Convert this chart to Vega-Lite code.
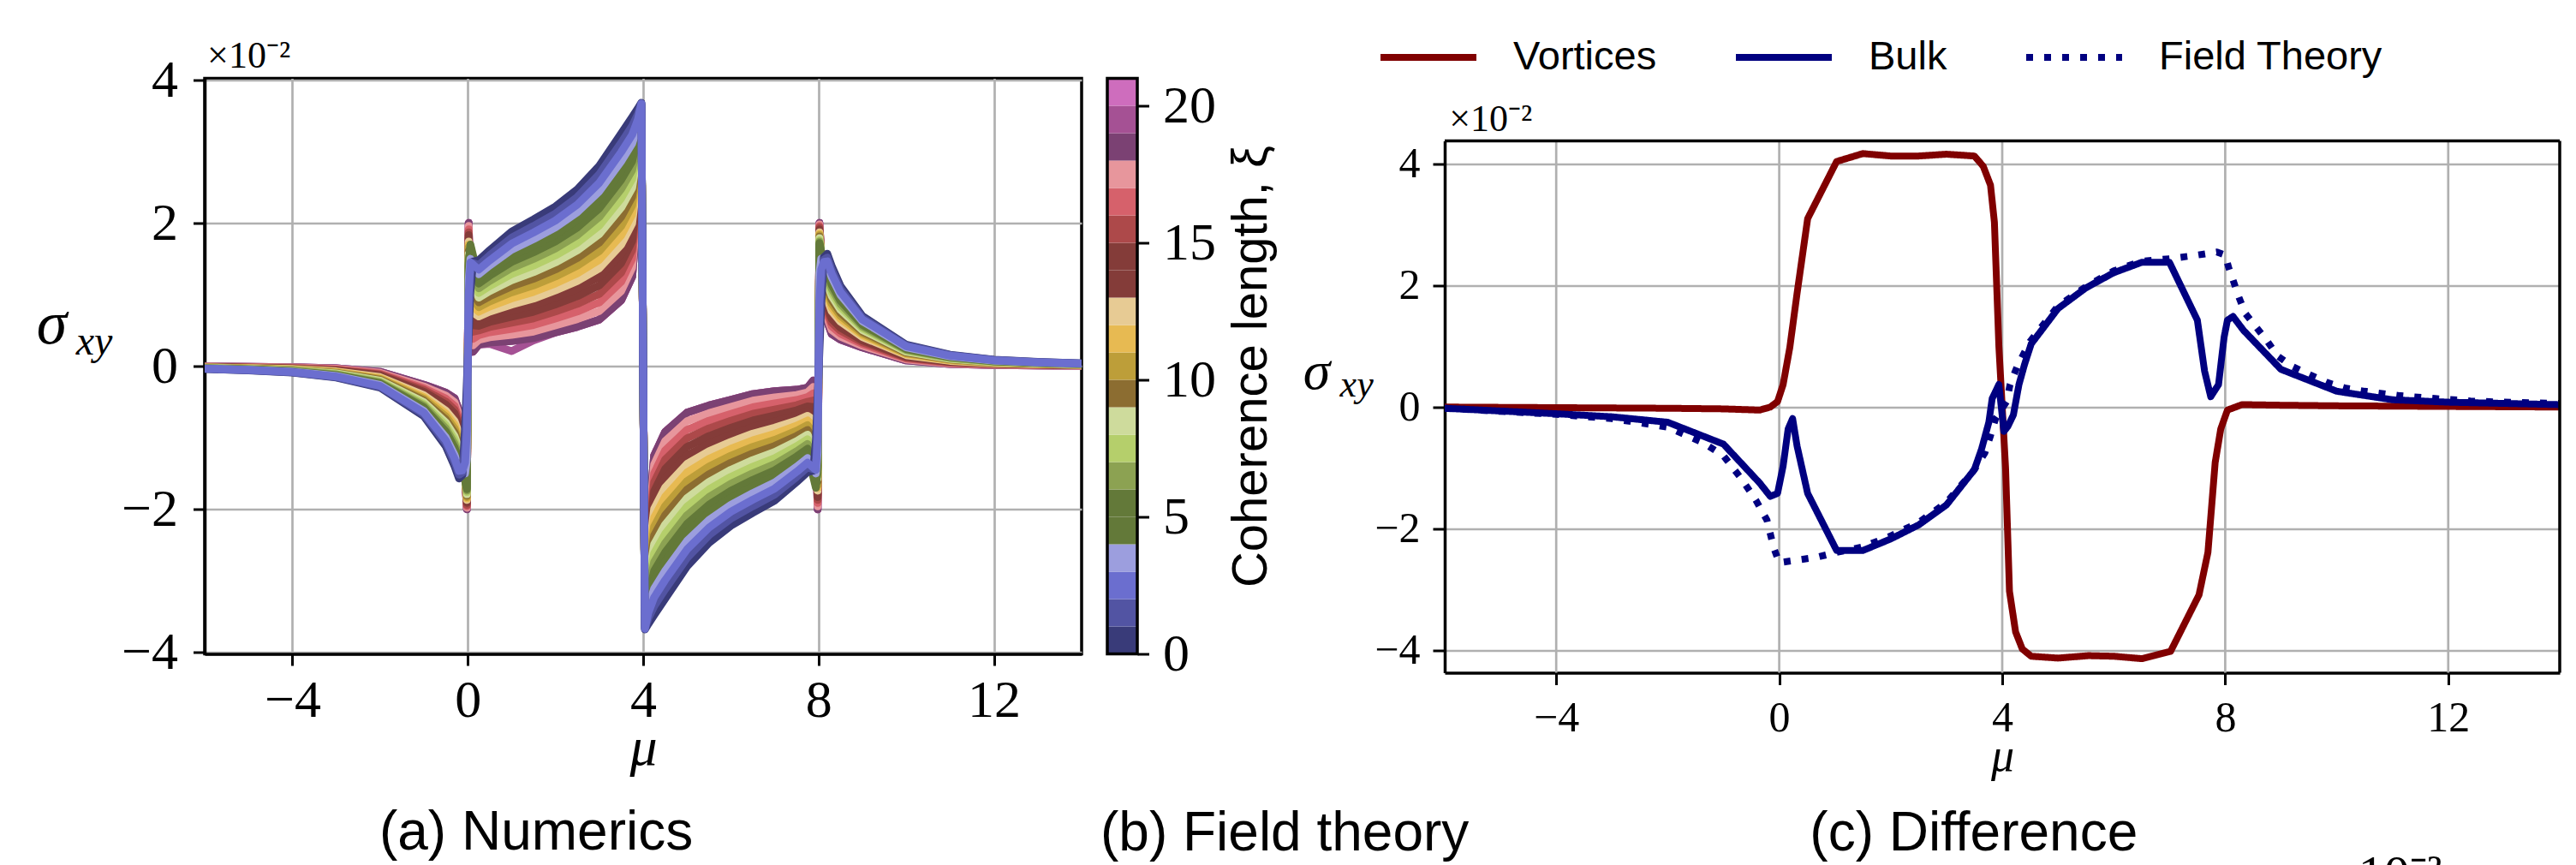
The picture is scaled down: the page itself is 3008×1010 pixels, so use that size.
{
"$schema": "https://vega.github.io/schema/vega-lite/v6.json",
"background": "white",
"padding": {"left": 40, "top": 6.5, "right": 10, "bottom": 0},
"autosize": {"type": "pad"},
"bounds": "flush",
"spacing": 424,
"config": {
  "font": "Liberation Serif",
  "view": {"stroke": null},
  "axis": {"gridColor": "#b0b0b0", "gridWidth": 2.7, "gridOpacity": 1, "domainColor": "black", "domainWidth": 3.5, "tickColor": "black", "tickWidth": 3, "labelColor": "black", "titleColor": "black", "labelFont": "Liberation Serif", "titleFont": "Liberation Serif", "titleFontWeight": "normal", "labelFlush": false, "labelOverlap": false}
},
"datasets": {
"numerics": [
{"m":-6,"v0":-0.04,"v1":-0.038,"v2":-0.036,"v3":-0.034,"v4":-0.032,"v5":-0.03,"v6":-0.028,"v7":-0.026,"v8":-0.024,"v9":-0.023,"v10":-0.021,"v11":-0.019,"v12":-0.017,"v13":-0.015,"v14":-0.013,"v15":-0.011,"v16":-0.009,"v17":-0.007,"v18":-0.005,"v19":-0.005,"v20":-0.005},
{"m":-5,"v0":-0.06,"v1":-0.057,"v2":-0.054,"v3":-0.052,"v4":-0.049,"v5":-0.046,"v6":-0.043,"v7":-0.041,"v8":-0.038,"v9":-0.035,"v10":-0.032,"v11":-0.029,"v12":-0.027,"v13":-0.024,"v14":-0.021,"v15":-0.018,"v16":-0.016,"v17":-0.013,"v18":-0.01,"v19":-0.01,"v20":-0.01},
{"m":-4,"v0":-0.09,"v1":-0.086,"v2":-0.082,"v3":-0.078,"v4":-0.073,"v5":-0.069,"v6":-0.065,"v7":-0.061,"v8":-0.057,"v9":-0.053,"v10":-0.048,"v11":-0.044,"v12":-0.04,"v13":-0.036,"v14":-0.032,"v15":-0.028,"v16":-0.023,"v17":-0.019,"v18":-0.015,"v19":-0.015,"v20":-0.015},
{"m":-3,"v0":-0.16,"v1":-0.153,"v2":-0.146,"v3":-0.138,"v4":-0.131,"v5":-0.124,"v6":-0.117,"v7":-0.109,"v8":-0.102,"v9":-0.095,"v10":-0.088,"v11":-0.081,"v12":-0.073,"v13":-0.066,"v14":-0.059,"v15":-0.052,"v16":-0.044,"v17":-0.037,"v18":-0.03,"v19":-0.03,"v20":-0.03},
{"m":-2,"v0":-0.3,"v1":-0.288,"v2":-0.276,"v3":-0.263,"v4":-0.251,"v5":-0.239,"v6":-0.227,"v7":-0.214,"v8":-0.202,"v9":-0.19,"v10":-0.178,"v11":-0.166,"v12":-0.153,"v13":-0.141,"v14":-0.129,"v15":-0.117,"v16":-0.104,"v17":-0.092,"v18":-0.08,"v19":-0.08,"v20":-0.08},
{"m":-1,"v0":-0.7,"v1":-0.676,"v2":-0.651,"v3":-0.627,"v4":-0.602,"v5":-0.578,"v6":-0.553,"v7":-0.529,"v8":-0.504,"v9":-0.48,"v10":-0.456,"v11":-0.431,"v12":-0.407,"v13":-0.382,"v14":-0.358,"v15":-0.333,"v16":-0.309,"v17":-0.284,"v18":-0.26,"v19":-0.26,"v20":-0.26},
{"m":-0.5,"v0":-1.12,"v1":-1.078,"v2":-1.037,"v3":-0.995,"v4":-0.953,"v5":-0.912,"v6":-0.87,"v7":-0.828,"v8":-0.787,"v9":-0.745,"v10":-0.703,"v11":-0.662,"v12":-0.62,"v13":-0.578,"v14":-0.537,"v15":-0.495,"v16":-0.453,"v17":-0.412,"v18":-0.37,"v19":-0.37,"v20":-0.37},
{"m":-0.3,"v0":-1.4,"v1":-1.347,"v2":-1.294,"v3":-1.242,"v4":-1.189,"v5":-1.136,"v6":-1.083,"v7":-1.031,"v8":-0.978,"v9":-0.925,"v10":-0.872,"v11":-0.819,"v12":-0.767,"v13":-0.714,"v14":-0.661,"v15":-0.608,"v16":-0.556,"v17":-0.503,"v18":-0.45,"v19":-0.45,"v20":-0.45},
{"m":-0.2,"v0":-1.57,"v1":-1.517,"v2":-1.464,"v3":-1.412,"v4":-1.359,"v5":-1.306,"v6":-1.253,"v7":-1.201,"v8":-1.148,"v9":-1.095,"v10":-1.042,"v11":-0.989,"v12":-0.937,"v13":-0.884,"v14":-0.831,"v15":-0.778,"v16":-0.726,"v17":-0.673,"v18":-0.62,"v19":-0.62,"v20":-0.62},
{"m":-0.12,"v0":-1.52,"v1":-1.488,"v2":-1.457,"v3":-1.425,"v4":-1.393,"v5":-1.362,"v6":-1.33,"v7":-1.298,"v8":-1.267,"v9":-1.235,"v10":-1.203,"v11":-1.172,"v12":-1.14,"v13":-1.108,"v14":-1.077,"v15":-1.045,"v16":-1.013,"v17":-0.982,"v18":-0.95,"v19":-0.95,"v20":-0.95},
{"m":-0.06,"v0":-0.82,"v1":-1.1,"v2":-1.35,"v3":-1.5,"v4":-1.6,"v5":-1.6,"v6":-1.59,"v7":-1.59,"v8":-1.58,"v9":-1.58,"v10":-1.58,"v11":-1.57,"v12":-1.57,"v13":-1.57,"v14":-1.56,"v15":-1.56,"v16":-1.56,"v17":-1.55,"v18":-1.55,"v19":-1.55,"v20":-1.55},
{"m":-0.02,"v0":-0.21,"v1":-0.5,"v2":-0.9,"v3":-1.3,"v4":-1.7,"v5":-1.72,"v6":-1.74,"v7":-1.76,"v8":-1.79,"v9":-1.81,"v10":-1.83,"v11":-1.85,"v12":-1.87,"v13":-1.89,"v14":-1.91,"v15":-1.94,"v16":-1.96,"v17":-1.98,"v18":-2.0,"v19":-2.0,"v20":-2.0},
{"m":0.02,"v0":0.41,"v1":0.7,"v2":1.0,"v3":1.2,"v4":1.4,"v5":1.44,"v6":1.49,"v7":1.53,"v8":1.57,"v9":1.61,"v10":1.66,"v11":1.7,"v12":1.74,"v13":1.79,"v14":1.83,"v15":1.87,"v16":1.91,"v17":1.96,"v18":2.0,"v19":2.0,"v20":2.0},
{"m":0.06,"v0":1.03,"v1":1.3,"v2":1.45,"v3":1.5,"v4":1.7,"v5":1.65,"v6":1.6,"v7":1.55,"v8":1.5,"v9":1.45,"v10":1.4,"v11":1.35,"v12":1.3,"v13":1.25,"v14":1.2,"v15":1.15,"v16":1.1,"v17":1.05,"v18":1.0,"v19":1.0,"v20":1.0},
{"m":0.12,"v0":1.46,"v1":1.44,"v2":1.42,"v3":1.4,"v4":1.55,"v5":1.5,"v6":1.3,"v7":1.21,"v8":1.12,"v9":1.03,"v10":0.93,"v11":0.84,"v12":0.75,"v13":0.66,"v14":0.57,"v15":0.48,"v16":0.38,"v17":0.29,"v18":0.2,"v19":0.2,"v20":0.2},
{"m":0.25,"v0":1.48,"v1":1.414,"v2":1.349,"v3":1.283,"v4":1.218,"v5":1.152,"v6":1.087,"v7":1.021,"v8":0.956,"v9":0.89,"v10":0.824,"v11":0.759,"v12":0.693,"v13":0.628,"v14":0.562,"v15":0.497,"v16":0.431,"v17":0.366,"v18":0.3,"v19":0.3,"v20":0.3},
{"m":0.5,"v0":1.62,"v1":1.548,"v2":1.477,"v3":1.405,"v4":1.333,"v5":1.262,"v6":1.19,"v7":1.118,"v8":1.047,"v9":0.975,"v10":0.903,"v11":0.832,"v12":0.76,"v13":0.688,"v14":0.617,"v15":0.545,"v16":0.473,"v17":0.402,"v18":0.33,"v19":0.31,"v20":0.33},
{"m":1,"v0":1.88,"v1":1.795,"v2":1.71,"v3":1.625,"v4":1.54,"v5":1.455,"v6":1.37,"v7":1.285,"v8":1.2,"v9":1.115,"v10":1.03,"v11":0.945,"v12":0.86,"v13":0.775,"v14":0.69,"v15":0.605,"v16":0.52,"v17":0.435,"v18":0.35,"v19":0.21,"v20":0.35},
{"m":1.5,"v0":2.05,"v1":1.958,"v2":1.866,"v3":1.773,"v4":1.681,"v5":1.589,"v6":1.497,"v7":1.404,"v8":1.312,"v9":1.22,"v10":1.128,"v11":1.036,"v12":0.943,"v13":0.851,"v14":0.759,"v15":0.667,"v16":0.574,"v17":0.482,"v18":0.39,"v19":0.36,"v20":0.39},
{"m":2,"v0":2.23,"v1":2.132,"v2":2.034,"v3":1.937,"v4":1.839,"v5":1.741,"v6":1.643,"v7":1.546,"v8":1.448,"v9":1.35,"v10":1.252,"v11":1.154,"v12":1.057,"v13":0.959,"v14":0.861,"v15":0.763,"v16":0.666,"v17":0.568,"v18":0.47,"v19":0.47,"v20":0.47},
{"m":2.5,"v0":2.47,"v1":2.363,"v2":2.257,"v3":2.15,"v4":2.043,"v5":1.937,"v6":1.83,"v7":1.723,"v8":1.617,"v9":1.51,"v10":1.403,"v11":1.297,"v12":1.19,"v13":1.083,"v14":0.977,"v15":0.87,"v16":0.763,"v17":0.657,"v18":0.55,"v19":0.55,"v20":0.55},
{"m":3,"v0":2.8,"v1":2.681,"v2":2.561,"v3":2.442,"v4":2.322,"v5":2.203,"v6":2.083,"v7":1.964,"v8":1.844,"v9":1.725,"v10":1.606,"v11":1.486,"v12":1.367,"v13":1.247,"v14":1.128,"v15":1.008,"v16":0.889,"v17":0.769,"v18":0.65,"v19":0.65,"v20":0.65},
{"m":3.5,"v0":3.25,"v1":3.121,"v2":2.991,"v3":2.862,"v4":2.732,"v5":2.603,"v6":2.473,"v7":2.344,"v8":2.214,"v9":2.085,"v10":1.956,"v11":1.826,"v12":1.697,"v13":1.567,"v14":1.438,"v15":1.308,"v16":1.179,"v17":1.049,"v18":0.92,"v19":0.92,"v20":0.92},
{"m":3.75,"v0":3.48,"v1":3.356,"v2":3.232,"v3":3.108,"v4":2.984,"v5":2.861,"v6":2.737,"v7":2.613,"v8":2.489,"v9":2.365,"v10":2.241,"v11":2.117,"v12":1.993,"v13":1.869,"v14":1.746,"v15":1.622,"v16":1.498,"v17":1.374,"v18":1.25,"v19":1.25,"v20":1.25},
{"m":3.88,"v0":3.6,"v1":3.522,"v2":3.444,"v3":3.367,"v4":3.289,"v5":3.211,"v6":3.133,"v7":3.056,"v8":2.978,"v9":2.9,"v10":2.822,"v11":2.744,"v12":2.667,"v13":2.589,"v14":2.511,"v15":2.433,"v16":2.356,"v17":2.278,"v18":2.2,"v19":2.2,"v20":2.2},
{"m":3.96,"v0":3.68,"v1":3.673,"v2":3.666,"v3":3.658,"v4":3.651,"v5":3.644,"v6":3.637,"v7":3.629,"v8":3.622,"v9":3.615,"v10":3.608,"v11":3.601,"v12":3.593,"v13":3.586,"v14":3.579,"v15":3.572,"v16":3.564,"v17":3.557,"v18":3.55,"v19":3.55,"v20":3.55},
{"m":4.04,"v0":-3.68,"v1":-3.673,"v2":-3.666,"v3":-3.658,"v4":-3.651,"v5":-3.644,"v6":-3.637,"v7":-3.629,"v8":-3.622,"v9":-3.615,"v10":-3.608,"v11":-3.601,"v12":-3.593,"v13":-3.586,"v14":-3.579,"v15":-3.572,"v16":-3.564,"v17":-3.557,"v18":-3.55,"v19":-3.55,"v20":-3.55},
{"m":4.12,"v0":-3.6,"v1":-3.522,"v2":-3.444,"v3":-3.367,"v4":-3.289,"v5":-3.211,"v6":-3.133,"v7":-3.056,"v8":-2.978,"v9":-2.9,"v10":-2.822,"v11":-2.744,"v12":-2.667,"v13":-2.589,"v14":-2.511,"v15":-2.433,"v16":-2.356,"v17":-2.278,"v18":-2.2,"v19":-2.2,"v20":-2.2},
{"m":4.25,"v0":-3.48,"v1":-3.356,"v2":-3.232,"v3":-3.108,"v4":-2.984,"v5":-2.861,"v6":-2.737,"v7":-2.613,"v8":-2.489,"v9":-2.365,"v10":-2.241,"v11":-2.117,"v12":-1.993,"v13":-1.869,"v14":-1.746,"v15":-1.622,"v16":-1.498,"v17":-1.374,"v18":-1.25,"v19":-1.25,"v20":-1.25},
{"m":4.5,"v0":-3.25,"v1":-3.121,"v2":-2.991,"v3":-2.862,"v4":-2.732,"v5":-2.603,"v6":-2.473,"v7":-2.344,"v8":-2.214,"v9":-2.085,"v10":-1.956,"v11":-1.826,"v12":-1.697,"v13":-1.567,"v14":-1.438,"v15":-1.308,"v16":-1.179,"v17":-1.049,"v18":-0.92,"v19":-0.92,"v20":-0.92},
{"m":5,"v0":-2.8,"v1":-2.681,"v2":-2.561,"v3":-2.442,"v4":-2.322,"v5":-2.203,"v6":-2.083,"v7":-1.964,"v8":-1.844,"v9":-1.725,"v10":-1.606,"v11":-1.486,"v12":-1.367,"v13":-1.247,"v14":-1.128,"v15":-1.008,"v16":-0.889,"v17":-0.769,"v18":-0.65,"v19":-0.65,"v20":-0.65},
{"m":5.5,"v0":-2.47,"v1":-2.363,"v2":-2.257,"v3":-2.15,"v4":-2.043,"v5":-1.937,"v6":-1.83,"v7":-1.723,"v8":-1.617,"v9":-1.51,"v10":-1.403,"v11":-1.297,"v12":-1.19,"v13":-1.083,"v14":-0.977,"v15":-0.87,"v16":-0.763,"v17":-0.657,"v18":-0.55,"v19":-0.55,"v20":-0.55},
{"m":6,"v0":-2.23,"v1":-2.132,"v2":-2.034,"v3":-1.937,"v4":-1.839,"v5":-1.741,"v6":-1.643,"v7":-1.546,"v8":-1.448,"v9":-1.35,"v10":-1.252,"v11":-1.154,"v12":-1.057,"v13":-0.959,"v14":-0.861,"v15":-0.763,"v16":-0.666,"v17":-0.568,"v18":-0.47,"v19":-0.47,"v20":-0.47},
{"m":6.5,"v0":-2.05,"v1":-1.958,"v2":-1.866,"v3":-1.773,"v4":-1.681,"v5":-1.589,"v6":-1.497,"v7":-1.404,"v8":-1.312,"v9":-1.22,"v10":-1.128,"v11":-1.036,"v12":-0.943,"v13":-0.851,"v14":-0.759,"v15":-0.667,"v16":-0.574,"v17":-0.482,"v18":-0.39,"v19":-0.39,"v20":-0.39},
{"m":7,"v0":-1.88,"v1":-1.795,"v2":-1.71,"v3":-1.625,"v4":-1.54,"v5":-1.455,"v6":-1.37,"v7":-1.285,"v8":-1.2,"v9":-1.115,"v10":-1.03,"v11":-0.945,"v12":-0.86,"v13":-0.775,"v14":-0.69,"v15":-0.605,"v16":-0.52,"v17":-0.435,"v18":-0.35,"v19":-0.35,"v20":-0.35},
{"m":7.5,"v0":-1.62,"v1":-1.548,"v2":-1.477,"v3":-1.405,"v4":-1.333,"v5":-1.262,"v6":-1.19,"v7":-1.118,"v8":-1.047,"v9":-0.975,"v10":-0.903,"v11":-0.832,"v12":-0.76,"v13":-0.688,"v14":-0.617,"v15":-0.545,"v16":-0.473,"v17":-0.402,"v18":-0.33,"v19":-0.33,"v20":-0.33},
{"m":7.75,"v0":-1.48,"v1":-1.414,"v2":-1.349,"v3":-1.283,"v4":-1.218,"v5":-1.152,"v6":-1.087,"v7":-1.021,"v8":-0.956,"v9":-0.89,"v10":-0.824,"v11":-0.759,"v12":-0.693,"v13":-0.628,"v14":-0.562,"v15":-0.497,"v16":-0.431,"v17":-0.366,"v18":-0.3,"v19":-0.3,"v20":-0.3},
{"m":7.88,"v0":-1.46,"v1":-1.44,"v2":-1.42,"v3":-1.4,"v4":-1.55,"v5":-1.5,"v6":-1.3,"v7":-1.21,"v8":-1.12,"v9":-1.03,"v10":-0.93,"v11":-0.84,"v12":-0.75,"v13":-0.66,"v14":-0.57,"v15":-0.48,"v16":-0.38,"v17":-0.29,"v18":-0.2,"v19":-0.2,"v20":-0.2},
{"m":7.94,"v0":-1.03,"v1":-1.3,"v2":-1.45,"v3":-1.5,"v4":-1.7,"v5":-1.65,"v6":-1.6,"v7":-1.55,"v8":-1.5,"v9":-1.45,"v10":-1.4,"v11":-1.35,"v12":-1.3,"v13":-1.25,"v14":-1.2,"v15":-1.15,"v16":-1.1,"v17":-1.05,"v18":-1.0,"v19":-1.0,"v20":-1.0},
{"m":7.98,"v0":-0.41,"v1":-0.7,"v2":-1.0,"v3":-1.2,"v4":-1.4,"v5":-1.44,"v6":-1.49,"v7":-1.53,"v8":-1.57,"v9":-1.61,"v10":-1.66,"v11":-1.7,"v12":-1.74,"v13":-1.79,"v14":-1.83,"v15":-1.87,"v16":-1.91,"v17":-1.96,"v18":-2.0,"v19":-2.0,"v20":-2.0},
{"m":8.02,"v0":0.21,"v1":0.5,"v2":0.9,"v3":1.3,"v4":1.7,"v5":1.72,"v6":1.74,"v7":1.76,"v8":1.79,"v9":1.81,"v10":1.83,"v11":1.85,"v12":1.87,"v13":1.89,"v14":1.91,"v15":1.94,"v16":1.96,"v17":1.98,"v18":2.0,"v19":2.0,"v20":2.0},
{"m":8.06,"v0":0.82,"v1":1.1,"v2":1.35,"v3":1.5,"v4":1.6,"v5":1.6,"v6":1.59,"v7":1.59,"v8":1.58,"v9":1.58,"v10":1.58,"v11":1.57,"v12":1.57,"v13":1.57,"v14":1.56,"v15":1.56,"v16":1.56,"v17":1.55,"v18":1.55,"v19":1.55,"v20":1.55},
{"m":8.12,"v0":1.52,"v1":1.488,"v2":1.457,"v3":1.425,"v4":1.393,"v5":1.362,"v6":1.33,"v7":1.298,"v8":1.267,"v9":1.235,"v10":1.203,"v11":1.172,"v12":1.14,"v13":1.108,"v14":1.077,"v15":1.045,"v16":1.013,"v17":0.982,"v18":0.95,"v19":0.95,"v20":0.95},
{"m":8.2,"v0":1.57,"v1":1.517,"v2":1.464,"v3":1.412,"v4":1.359,"v5":1.306,"v6":1.253,"v7":1.201,"v8":1.148,"v9":1.095,"v10":1.042,"v11":0.989,"v12":0.937,"v13":0.884,"v14":0.831,"v15":0.778,"v16":0.726,"v17":0.673,"v18":0.62,"v19":0.62,"v20":0.62},
{"m":8.3,"v0":1.4,"v1":1.347,"v2":1.294,"v3":1.242,"v4":1.189,"v5":1.136,"v6":1.083,"v7":1.031,"v8":0.978,"v9":0.925,"v10":0.872,"v11":0.819,"v12":0.767,"v13":0.714,"v14":0.661,"v15":0.608,"v16":0.556,"v17":0.503,"v18":0.45,"v19":0.45,"v20":0.45},
{"m":8.5,"v0":1.12,"v1":1.078,"v2":1.037,"v3":0.995,"v4":0.953,"v5":0.912,"v6":0.87,"v7":0.828,"v8":0.787,"v9":0.745,"v10":0.703,"v11":0.662,"v12":0.62,"v13":0.578,"v14":0.537,"v15":0.495,"v16":0.453,"v17":0.412,"v18":0.37,"v19":0.37,"v20":0.37},
{"m":9,"v0":0.7,"v1":0.676,"v2":0.651,"v3":0.627,"v4":0.602,"v5":0.578,"v6":0.553,"v7":0.529,"v8":0.504,"v9":0.48,"v10":0.456,"v11":0.431,"v12":0.407,"v13":0.382,"v14":0.358,"v15":0.333,"v16":0.309,"v17":0.284,"v18":0.26,"v19":0.26,"v20":0.26},
{"m":10,"v0":0.3,"v1":0.288,"v2":0.276,"v3":0.263,"v4":0.251,"v5":0.239,"v6":0.227,"v7":0.214,"v8":0.202,"v9":0.19,"v10":0.178,"v11":0.166,"v12":0.153,"v13":0.141,"v14":0.129,"v15":0.117,"v16":0.104,"v17":0.092,"v18":0.08,"v19":0.08,"v20":0.08},
{"m":11,"v0":0.16,"v1":0.153,"v2":0.146,"v3":0.138,"v4":0.131,"v5":0.124,"v6":0.117,"v7":0.109,"v8":0.102,"v9":0.095,"v10":0.088,"v11":0.081,"v12":0.073,"v13":0.066,"v14":0.059,"v15":0.052,"v16":0.044,"v17":0.037,"v18":0.03,"v19":0.03,"v20":0.03},
{"m":12,"v0":0.09,"v1":0.086,"v2":0.082,"v3":0.078,"v4":0.073,"v5":0.069,"v6":0.065,"v7":0.061,"v8":0.057,"v9":0.053,"v10":0.048,"v11":0.044,"v12":0.04,"v13":0.036,"v14":0.032,"v15":0.028,"v16":0.023,"v17":0.019,"v18":0.015,"v19":0.015,"v20":0.015},
{"m":13,"v0":0.06,"v1":0.057,"v2":0.054,"v3":0.052,"v4":0.049,"v5":0.046,"v6":0.043,"v7":0.041,"v8":0.038,"v9":0.035,"v10":0.032,"v11":0.029,"v12":0.027,"v13":0.024,"v14":0.021,"v15":0.018,"v16":0.016,"v17":0.013,"v18":0.01,"v19":0.01,"v20":0.01},
{"m":14,"v0":0.04,"v1":0.038,"v2":0.036,"v3":0.034,"v4":0.032,"v5":0.03,"v6":0.028,"v7":0.026,"v8":0.024,"v9":0.023,"v10":0.021,"v11":0.019,"v12":0.017,"v13":0.015,"v14":0.013,"v15":0.011,"v16":0.009,"v17":0.007,"v18":0.005,"v19":0.005,"v20":0.005}
],
"cbar": [
{"lo":0,"hi":1},{"lo":1,"hi":2},{"lo":2,"hi":3},{"lo":3,"hi":4},{"lo":4,"hi":5},{"lo":5,"hi":6},{"lo":6,"hi":7},{"lo":7,"hi":8},{"lo":8,"hi":9},{"lo":9,"hi":10},{"lo":10,"hi":11},{"lo":11,"hi":12},{"lo":12,"hi":13},{"lo":13,"hi":14},{"lo":14,"hi":15},{"lo":15,"hi":16},{"lo":16,"hi":17},{"lo":17,"hi":18},{"lo":18,"hi":19},{"lo":19,"hi":20},{"lo":20,"hi":21}
],
"diff": [
{"s":"Vortices","m":-6,"v":0.0},{"s":"Vortices","m":-4,"v":-0.01},{"s":"Vortices","m":-2,"v":-0.02},{"s":"Vortices","m":-1,"v":-0.03},{"s":"Vortices","m":-0.35,"v":-0.05},{"s":"Vortices","m":-0.16,"v":0.0},{"s":"Vortices","m":-0.03,"v":0.09},{"s":"Vortices","m":0.07,"v":0.37},{"s":"Vortices","m":0.19,"v":0.98},{"s":"Vortices","m":0.32,"v":1.87},{"s":"Vortices","m":0.51,"v":3.1},{"s":"Vortices","m":1.03,"v":4.04},{"s":"Vortices","m":1.5,"v":4.17},{"s":"Vortices","m":2.0,"v":4.13},{"s":"Vortices","m":2.5,"v":4.13},{"s":"Vortices","m":3.0,"v":4.16},{"s":"Vortices","m":3.5,"v":4.13},{"s":"Vortices","m":3.66,"v":3.96},{"s":"Vortices","m":3.79,"v":3.65},{"s":"Vortices","m":3.86,"v":3.04},{"s":"Vortices","m":3.94,"v":1.0},{"s":"Vortices","m":4.0,"v":0.0},{"s":"Vortices","m":4.06,"v":-1.0},{"s":"Vortices","m":4.13,"v":-3.03},{"s":"Vortices","m":4.24,"v":-3.7},{"s":"Vortices","m":4.36,"v":-3.98},{"s":"Vortices","m":4.52,"v":-4.1},{"s":"Vortices","m":5.0,"v":-4.13},{"s":"Vortices","m":5.55,"v":-4.09},{"s":"Vortices","m":6.0,"v":-4.1},{"s":"Vortices","m":6.51,"v":-4.14},{"s":"Vortices","m":7.02,"v":-4.02},{"s":"Vortices","m":7.53,"v":-3.09},{"s":"Vortices","m":7.69,"v":-2.39},{"s":"Vortices","m":7.82,"v":-0.91},{"s":"Vortices","m":7.92,"v":-0.36},{"s":"Vortices","m":8.04,"v":-0.05},{"s":"Vortices","m":8.3,"v":0.04},{"s":"Vortices","m":9,"v":0.03},{"s":"Vortices","m":10,"v":0.02},{"s":"Vortices","m":12,"v":0.01},{"s":"Vortices","m":14,"v":0.0},
{"s":"Bulk","m":-6,"v":-0.02},{"s":"Bulk","m":-4,"v":-0.11},{"s":"Bulk","m":-3,"v":-0.16},{"s":"Bulk","m":-2,"v":-0.25},{"s":"Bulk","m":-1,"v":-0.61},{"s":"Bulk","m":-0.35,"v":-1.25},{"s":"Bulk","m":-0.16,"v":-1.47},{"s":"Bulk","m":-0.03,"v":-1.42},{"s":"Bulk","m":0.07,"v":-0.97},{"s":"Bulk","m":0.16,"v":-0.36},{"s":"Bulk","m":0.24,"v":-0.19},{"s":"Bulk","m":0.32,"v":-0.64},{"s":"Bulk","m":0.51,"v":-1.42},{"s":"Bulk","m":1.03,"v":-2.36},{"s":"Bulk","m":1.5,"v":-2.36},{"s":"Bulk","m":2.0,"v":-2.17},{"s":"Bulk","m":2.5,"v":-1.94},{"s":"Bulk","m":3.0,"v":-1.61},{"s":"Bulk","m":3.5,"v":-1.03},{"s":"Bulk","m":3.63,"v":-0.69},{"s":"Bulk","m":3.76,"v":-0.25},{"s":"Bulk","m":3.82,"v":0.14},{"s":"Bulk","m":3.94,"v":0.37},{"s":"Bulk","m":4.03,"v":-0.4},{"s":"Bulk","m":4.1,"v":-0.32},{"s":"Bulk","m":4.2,"v":-0.13},{"s":"Bulk","m":4.3,"v":0.37},{"s":"Bulk","m":4.4,"v":0.7},{"s":"Bulk","m":4.52,"v":1.04},{"s":"Bulk","m":5.0,"v":1.62},{"s":"Bulk","m":5.5,"v":1.96},{"s":"Bulk","m":6.0,"v":2.21},{"s":"Bulk","m":6.5,"v":2.38},{"s":"Bulk","m":7.0,"v":2.38},{"s":"Bulk","m":7.5,"v":1.43},{"s":"Bulk","m":7.63,"v":0.59},{"s":"Bulk","m":7.74,"v":0.17},{"s":"Bulk","m":7.88,"v":0.37},{"s":"Bulk","m":7.98,"v":1.15},{"s":"Bulk","m":8.04,"v":1.43},{"s":"Bulk","m":8.14,"v":1.49},{"s":"Bulk","m":8.33,"v":1.26},{"s":"Bulk","m":9.0,"v":0.62},{"s":"Bulk","m":10.0,"v":0.26},{"s":"Bulk","m":11.0,"v":0.12},{"s":"Bulk","m":12.0,"v":0.08},{"s":"Bulk","m":13.0,"v":0.06},{"s":"Bulk","m":14.0,"v":0.04},
{"s":"Field Theory","m":-6,"v":-0.02},{"s":"Field Theory","m":-4,"v":-0.12},{"s":"Field Theory","m":-3,"v":-0.19},{"s":"Field Theory","m":-2,"v":-0.33},{"s":"Field Theory","m":-1.38,"v":-0.58},{"s":"Field Theory","m":-1,"v":-0.8},{"s":"Field Theory","m":-0.67,"v":-1.19},{"s":"Field Theory","m":-0.42,"v":-1.53},{"s":"Field Theory","m":-0.22,"v":-1.86},{"s":"Field Theory","m":-0.1,"v":-2.31},{"s":"Field Theory","m":0,"v":-2.56},{"s":"Field Theory","m":0.68,"v":-2.47},{"s":"Field Theory","m":1.03,"v":-2.39},{"s":"Field Theory","m":1.5,"v":-2.3},{"s":"Field Theory","m":2.0,"v":-2.12},{"s":"Field Theory","m":2.5,"v":-1.9},{"s":"Field Theory","m":3.0,"v":-1.57},{"s":"Field Theory","m":3.5,"v":-1.03},{"s":"Field Theory","m":3.69,"v":-0.75},{"s":"Field Theory","m":3.79,"v":-0.47},{"s":"Field Theory","m":3.88,"v":-0.19},{"s":"Field Theory","m":4.0,"v":-0.02},{"s":"Field Theory","m":4.08,"v":0.09},{"s":"Field Theory","m":4.14,"v":0.37},{"s":"Field Theory","m":4.27,"v":0.67},{"s":"Field Theory","m":4.5,"v":1.08},{"s":"Field Theory","m":5.0,"v":1.66},{"s":"Field Theory","m":5.5,"v":1.98},{"s":"Field Theory","m":6.0,"v":2.24},{"s":"Field Theory","m":6.5,"v":2.4},{"s":"Field Theory","m":7.0,"v":2.44},{"s":"Field Theory","m":7.5,"v":2.5},{"s":"Field Theory","m":7.85,"v":2.55},{"s":"Field Theory","m":8.0,"v":2.5},{"s":"Field Theory","m":8.06,"v":2.3},{"s":"Field Theory","m":8.14,"v":2.09},{"s":"Field Theory","m":8.24,"v":1.82},{"s":"Field Theory","m":8.36,"v":1.54},{"s":"Field Theory","m":8.56,"v":1.31},{"s":"Field Theory","m":8.75,"v":1.09},{"s":"Field Theory","m":8.94,"v":0.84},{"s":"Field Theory","m":9.2,"v":0.67},{"s":"Field Theory","m":9.52,"v":0.53},{"s":"Field Theory","m":9.84,"v":0.4},{"s":"Field Theory","m":10.16,"v":0.31},{"s":"Field Theory","m":10.5,"v":0.26},{"s":"Field Theory","m":11.1,"v":0.19},{"s":"Field Theory","m":11.76,"v":0.14},{"s":"Field Theory","m":12.4,"v":0.1},{"s":"Field Theory","m":13,"v":0.08},{"s":"Field Theory","m":14,"v":0.06}
]
},
"hconcat": [
{
  "width": 1024, "height": 672,
  "view": {"stroke": "black", "strokeWidth": 3.5},
  "layer": [
    {
      "layer": [
        {
          "data": {"name": "numerics"},
          "transform": [{"fold": ["v20","v19","v18","v17","v16","v15","v14","v13","v12","v11","v10","v9","v8","v7","v6","v5","v4","v3","v0","v1","v2"], "as": ["xi","val"]}],
          "mark": {"type": "line", "strokeWidth": 9, "strokeJoin": "round", "strokeCap": "butt", "clip": true},
          "encoding": {
            "x": {"field": "m", "type": "quantitative", "scale": {"domain": [-6, 14], "nice": false, "zero": false},
                  "axis": {"values": [-4, 0, 4, 8, 12], "format": "d", "grid": true, "title": "μ", "titleFontStyle": "italic", "titleFontSize": 64, "titleY": 129, "titleBaseline": "alphabetic", "labelFontSize": 62, "labelPadding": 10, "tickSize": 13.5}},
            "y": {"field": "val", "type": "quantitative", "scale": {"domain": [-4.02, 4.02], "nice": false, "zero": false},
                  "axis": {"orient": "left", "values": [-4, -2, 0, 2, 4], "format": "d", "grid": true, "title": "σ", "titleAngle": 0, "titleAlign": "center", "titleBaseline": "alphabetic", "titleX": -179, "titleY": 309, "titleFontStyle": "italic", "titleFontSize": 72, "labelFontSize": 62, "labelPadding": 18, "tickSize": 13.5}},
            "color": {"field": "xi", "type": "nominal", "legend": null,
                      "scale": {"domain": ["v0","v1","v2","v3","v4","v5","v6","v7","v8","v9","v10","v11","v12","v13","v14","v15","v16","v17","v18","v19","v20"],
                                "range": ["#393b79","#5254a3","#6b6ecf","#9c9ede","#637939","#637939","#8ca252","#b5cf6b","#cedb9c","#8c6d31","#bd9e39","#e7ba52","#e7cb94","#843c39","#843c39","#ad494a","#d6616b","#e7969c","#7b4173","#a55194","#ce6dbd"]}}
          }
        },
        {
          "data": {"values": [{}]},
          "mark": {"type": "text", "align": "left", "baseline": "alphabetic", "font": "Liberation Serif", "fontSize": 44, "color": "black"},
          "encoding": {"x": {"datum": -5.94, "scale": {"domain": [-6, 14]}}, "y": {"datum": 4.175, "scale": {"domain": [-4.02, 4.02]}}, "text": {"value": "×10⁻²"}}
        },
        {
          "data": {"values": [{}]},
          "mark": {"type": "text", "align": "center", "baseline": "alphabetic", "font": "Liberation Serif", "fontStyle": "italic", "fontSize": 48, "color": "black"},
          "encoding": {"x": {"datum": -8.52, "scale": {"domain": [-6, 14]}}, "y": {"datum": 0.167, "scale": {"domain": [-4.02, 4.02]}}, "text": {"value": "xy"}}
        },
        {
          "data": {"values": [{}]},
          "mark": {"type": "text", "align": "center", "baseline": "alphabetic", "font": "Liberation Sans", "fontSize": 64, "color": "black"},
          "encoding": {"x": {"datum": 1.56, "scale": {"domain": [-6, 14]}}, "y": {"datum": -6.758, "scale": {"domain": [-4.02, 4.02]}}, "text": {"value": "(a) Numerics"}}
        }
      ]
    },
    {
      "layer": [
        {
          "data": {"name": "cbar"},
          "mark": {"type": "rect"},
          "encoding": {
            "x": {"datum": 14.586, "type": "quantitative", "scale": {"domain": [-6, 14]}},
            "x2": {"datum": 15.27},
            "y": {"field": "lo", "type": "quantitative", "scale": {"domain": [0, 21], "nice": false, "zero": false},
                  "axis": {"orient": "right", "offset": 65, "values": [0, 5, 10, 15, 20], "format": "d", "grid": false, "domain": false, "tickSize": 13.5, "labelFontSize": 62, "labelPadding": 16, "title": "Coherence length, ξ", "titleFont": "Liberation Sans", "titleFontSize": 58, "titleFontStyle": "normal", "titleAngle": 270, "titleX": 150, "titleY": 336, "titleAlign": "center", "titleBaseline": "alphabetic"}},
            "y2": {"field": "hi"},
            "color": {"field": "lo", "type": "ordinal", "legend": null,
                      "scale": {"domain": [0,1,2,3,4,5,6,7,8,9,10,11,12,13,14,15,16,17,18,19,20],
                                "range": ["#393b79","#5254a3","#6b6ecf","#9c9ede","#637939","#637939","#8ca252","#b5cf6b","#cedb9c","#8c6d31","#bd9e39","#e7ba52","#e7cb94","#843c39","#843c39","#ad494a","#d6616b","#e7969c","#7b4173","#a55194","#ce6dbd"]}}
          }
        },
        {
          "data": {"values": [{}]},
          "mark": {"type": "rect", "fill": null, "stroke": "black", "strokeWidth": 3.5},
          "encoding": {
            "x": {"datum": 14.586, "type": "quantitative", "scale": {"domain": [-6, 14]}},
            "x2": {"datum": 15.27},
            "y": {"datum": 0, "type": "quantitative", "scale": {"domain": [0, 21]}},
            "y2": {"datum": 21}
          }
        }
      ]
    }
  ],
  "resolve": {"scale": {"y": "independent", "color": "independent"}, "axis": {"y": "independent"}}
},
{
  "width": 1302, "height": 694,
  "layer": [
    {
      "data": {"values": [{"g": -4}, {"g": 0}, {"g": 4}, {"g": 8}, {"g": 12}]},
      "mark": {"type": "rule", "color": "#b0b0b0", "strokeWidth": 2.7},
      "encoding": {
        "x": {"field": "g", "type": "quantitative", "scale": {"domain": [-6, 14], "nice": false, "zero": false},
              "axis": {"values": [-4, 0, 4, 8, 12], "format": "d", "grid": false, "title": "μ", "titleFontStyle": "italic", "titleFontSize": 54, "titleY": 114, "titleBaseline": "alphabetic", "labelFontSize": 50, "labelPadding": 14, "tickSize": 14}},
        "y": {"datum": -4.371, "type": "quantitative", "scale": {"domain": [-4.371, 4.379], "range": [694, 73], "nice": false, "zero": false}},
        "y2": {"datum": 4.379}
      }
    },
    {
      "data": {"name": "diff"},
      "mark": {"type": "line", "strokeWidth": 8, "strokeJoin": "round", "strokeCap": "butt", "clip": true},
      "encoding": {
        "x": {"field": "m", "type": "quantitative", "scale": {"domain": [-6, 14], "nice": false, "zero": false},
              "axis": {"values": [-4, 0, 4, 8, 12], "format": "d", "grid": false, "title": "μ", "titleFontStyle": "italic", "titleFontSize": 54, "titleY": 114, "titleBaseline": "alphabetic", "labelFontSize": 50, "labelPadding": 14, "tickSize": 14}},
        "y": {"field": "v", "type": "quantitative", "scale": {"domain": [-4.371, 4.379], "range": [694, 73], "nice": false, "zero": false},
              "axis": {"values": [-4, -2, 0, 2, 4], "format": "d", "grid": true, "title": "σ", "titleAngle": 0, "titleAlign": "center", "titleBaseline": "alphabetic", "titleX": -150, "titleY": 362, "titleFontStyle": "italic", "titleFontSize": 64, "labelFontSize": 50, "labelPadding": 15, "tickSize": 14}},
        "color": {"field": "s", "type": "nominal",
                  "scale": {"domain": ["Vortices", "Bulk", "Field Theory"], "range": ["#800000", "#000080", "#000080"]},
                  "legend": {"title": null, "orient": "none", "legendX": 1369, "legendY": -84.5, "direction": "horizontal", "symbolType": "stroke", "symbolSize": 12544, "symbolStrokeWidth": 8, "labelFont": "Liberation Sans", "labelFontSize": 47, "labelColor": "black", "labelOffset": 39, "labelLimit": 600, "columnPadding": 76, "padding": 0}},
        "strokeDash": {"field": "s", "type": "nominal",
                  "scale": {"domain": ["Vortices", "Bulk", "Field Theory"], "range": [[1, 0], [1, 0], [8, 13]]},
                  "legend": {"title": null, "orient": "none", "legendX": 1369, "legendY": -84.5, "direction": "horizontal", "symbolType": "stroke", "symbolSize": 12544, "symbolStrokeWidth": 8, "labelFont": "Liberation Sans", "labelFontSize": 47, "labelColor": "black", "labelOffset": 39, "labelLimit": 600, "columnPadding": 76, "padding": 0}}
      }
    },
    {
      "data": {"values": [{}]},
      "mark": {"type": "rule", "color": "black", "strokeWidth": 3.5},
      "encoding": {"x": {"datum": -6}, "x2": {"datum": 14}, "y": {"datum": 4.379}}
    },
    {
      "data": {"values": [{}]},
      "mark": {"type": "rule", "color": "black", "strokeWidth": 3.5},
      "encoding": {"x": {"datum": 14}, "y": {"datum": -4.371}, "y2": {"datum": 4.379}}
    },
    {
      "data": {"values": [{}]},
      "mark": {"type": "text", "align": "center", "baseline": "alphabetic", "font": "Liberation Serif", "fontStyle": "italic", "fontSize": 44, "color": "black"},
      "encoding": {"x": {"datum": -7.58}, "y": {"datum": 0.18}, "text": {"value": "xy"}}
    },
    {
      "data": {"values": [{}]},
      "mark": {"type": "text", "align": "left", "baseline": "alphabetic", "font": "Liberation Serif", "fontSize": 44, "color": "black"},
      "encoding": {"x": {"datum": -5.92}, "y": {"datum": 4.548}, "text": {"value": "×10⁻²"}}
    },
    {
      "data": {"values": [{}]},
      "mark": {"type": "text", "align": "center", "baseline": "alphabetic", "font": "Liberation Sans", "fontSize": 64, "color": "black"},
      "encoding": {"x": {"datum": -8.87}, "y": {"datum": -7.288}, "text": {"value": "(b) Field theory"}}
    },
    {
      "data": {"values": [{}]},
      "mark": {"type": "text", "align": "center", "baseline": "alphabetic", "font": "Liberation Sans", "fontSize": 64, "color": "black"},
      "encoding": {"x": {"datum": 3.49}, "y": {"datum": -7.288}, "text": {"value": "(c) Difference"}}
    },
    {
      "data": {"values": [{}]},
      "mark": {"type": "text", "align": "center", "baseline": "alphabetic", "font": "Liberation Serif", "fontSize": 60, "color": "black"},
      "encoding": {"x": {"datum": 11.14}, "y": {"datum": -7.96}, "text": {"value": "10⁻²"}}
    }
  ]
}
]
}
